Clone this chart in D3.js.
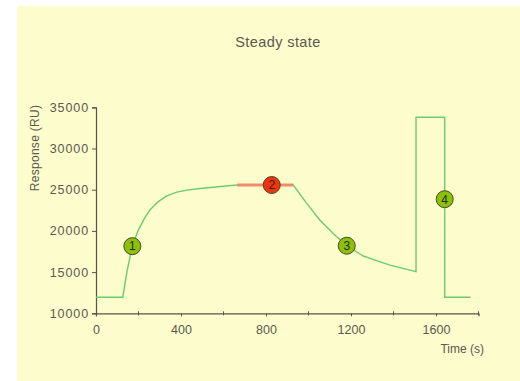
<!DOCTYPE html>
<html>
<head>
<meta charset="utf-8">
<script src="https://cdn.jsdelivr.net/npm/d3@7"></script>
<style>
  html, body { margin: 0; padding: 0; background: #ffffff; }
  svg { display: block; }
  text { font-family: "Liberation Sans", Arial, sans-serif; fill: #5a5a50; }
</style>
</head>
<body>
<svg id="chart" width="520" height="381"></svg>
<script>
// Sensorgram trace: time (s) and response (RU)
const traceTime = [0, 126, 147, 171, 199, 230, 254, 290, 333, 380, 427, 490, 552, 610, 665,
                   928, 990, 1054, 1120, 1180, 1258, 1320, 1384, 1506, 1506, 1641, 1641, 1763];
const traceResponse = [11950, 11950, 15250, 18150, 20100, 21600, 22550, 23500, 24250, 24700, 24950, 25150, 25300, 25450, 25570,
                       25570, 23400, 21300, 19600, 18200, 16950, 16400, 15850, 15050, 33800, 33800, 11950, 11950];

// Steady-state region
const steadyTime = [665, 928];
const steadyResponse = [25570, 25570];

// Numbered phase markers
const markerLabels = ["1", "2", "3", "4"];
const markerTime = [171, 827, 1180, 1641];
const markerResponse = [18150, 25570, 18200, 23850];
const markerKind = ["phase", "steady", "phase", "phase"];

// Axis ticks
const xTicks = [0, 400, 800, 1200, 1600];
const xMinorTicks = [200, 600, 1000, 1400, 1800];
const yTicks = [10000, 15000, 20000, 25000, 30000, 35000];

const svg = d3.select("#chart");

// Panel background
svg.append("rect").attr("x", 17).attr("y", 6).attr("width", 503).attr("height", 375)
  .attr("fill", "#fcfccc");

const x = d3.scaleLinear().domain([0, 1800]).range([96, 478.5]);
const y = d3.scaleLinear().domain([10000, 35000]).range([313.3, 107.3]);

// Title
svg.append("text").attr("x", 278).attr("y", 47).attr("text-anchor", "middle")
  .attr("font-size", 14.5).attr("letter-spacing", 0.4).text("Steady state");

// Y axis
const yAxis = svg.append("g").attr("transform", `translate(${x(0)},0)`)
  .call(d3.axisLeft(y).tickValues(yTicks).tickSize(4).tickPadding(3).tickFormat(d3.format("d")));
yAxis.select(".domain").attr("stroke", "#55554a").attr("stroke-width", 1.2);
yAxis.selectAll(".tick line").attr("stroke", "#55554a");
yAxis.selectAll(".tick text").attr("font-size", 12.5).attr("letter-spacing", 0.9)
  .attr("font-family", "'Liberation Sans', Arial, sans-serif").attr("fill", "#5a5a50");

// X axis
const xAxis = svg.append("g").attr("transform", `translate(0,${y(10000)})`)
  .call(d3.axisBottom(x).tickValues(xTicks).tickSize(3).tickPadding(9).tickFormat(d3.format("d")));
xAxis.select(".domain").attr("stroke", "#55554a").attr("stroke-width", 1.2);
xAxis.selectAll(".tick line").attr("stroke", "#55554a");
xAxis.selectAll(".tick text").attr("font-size", 12.5)
  .attr("font-family", "'Liberation Sans', Arial, sans-serif").attr("fill", "#5a5a50");
xAxis.selectAll(".minor").data(xMinorTicks).enter().append("line")
  .attr("x1", d => x(d)).attr("x2", d => x(d)).attr("y1", -2).attr("y2", 2)
  .attr("stroke", "#55554a");

// Axis titles
svg.append("text").attr("transform", `translate(39,148) rotate(-90)`)
  .attr("text-anchor", "middle").attr("font-size", 12).attr("letter-spacing", 0.3)
  .text("Response (RU)");
svg.append("text").attr("x", 484).attr("y", 353).attr("text-anchor", "end")
  .attr("font-size", 12).text("Time (s)");

// Trace
const line = d3.line().x(d => x(d[0])).y(d => y(d[1]));
svg.append("path").datum(d3.zip(traceTime, traceResponse))
  .attr("d", line).attr("fill", "none").attr("stroke", "#6ccc6c").attr("stroke-width", 1.4);

svg.append("path").datum(d3.zip(steadyTime, steadyResponse))
  .attr("d", line).attr("fill", "none").attr("stroke", "#f28a6a").attr("stroke-width", 3);

// Markers
const markers = svg.selectAll(".marker")
  .data(markerLabels.map((l, i) => ({ l, t: markerTime[i], r: markerResponse[i], k: markerKind[i] })))
  .enter().append("g").attr("class", "marker")
  .attr("transform", d => `translate(${x(d.t)},${y(d.r)})`);
markers.append("circle").attr("r", 8.5)
  .attr("fill", d => d.k === "steady" ? "#ee3310" : "#8cc00c")
  .attr("stroke", "#4a4a20").attr("stroke-width", 1);
markers.append("text").attr("text-anchor", "middle").attr("dy", "0.36em")
  .attr("font-size", 12).style("fill", "#2a2a10").text(d => d.l);
</script>
</body>
</html>
